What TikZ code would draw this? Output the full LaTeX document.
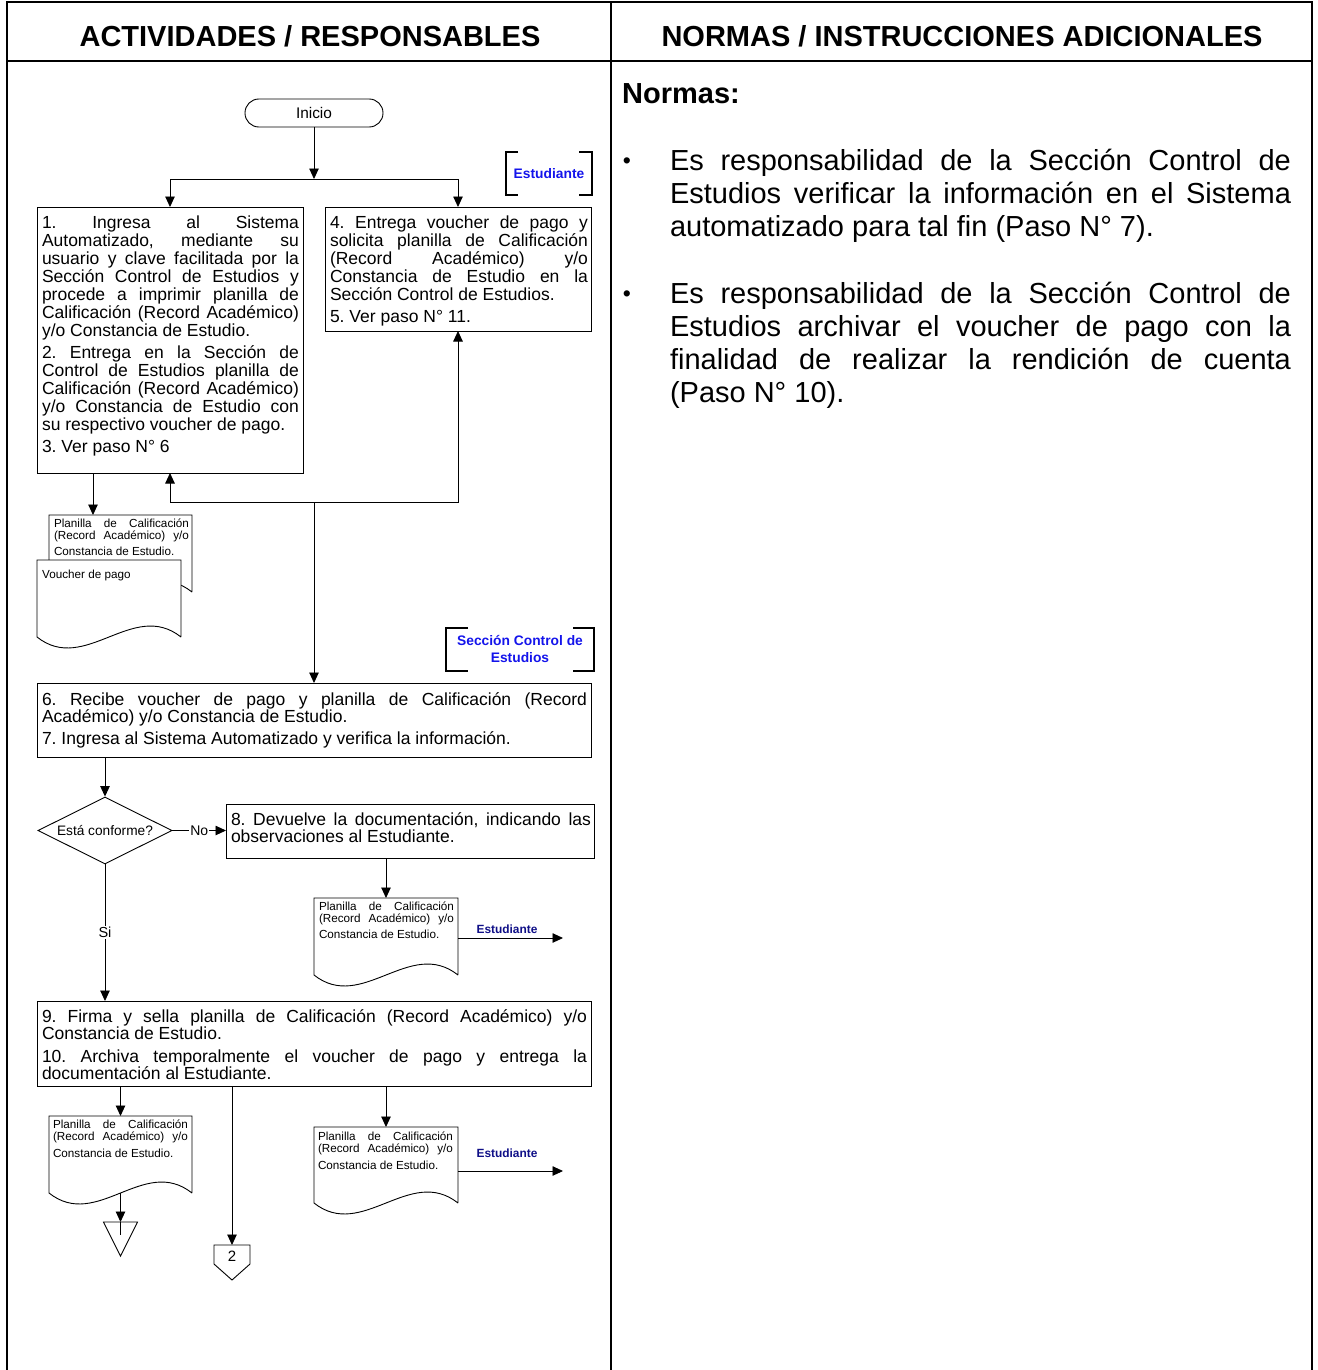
\documentclass[tikz,border=0pt]{standalone}
\usepackage{fontspec}
\setmainfont{Liberation Sans}
\usetikzlibrary{arrows.meta,shapes.geometric}
\definecolor{lblue}{RGB}{20,20,235}
\definecolor{dblue}{RGB}{15,15,135}
\newcommand\fsz[2]{\fontsize{#1}{#2}\selectfont}
\newcommand\pset[1]{\parindent=0pt\parskip=#1\relax}
\newcommand\docshape[1]{\draw[ln,fill=white] (#1.south east) -- (#1.north east) -- (#1.north west) -- (#1.south west) .. controls +(48,38) and +(-48,-38) .. (#1.south east);}
\hyphenpenalty=10000
\exhyphenpenalty=10000
\tolerance=10000
\hbadness=10000
\frenchspacing
\begin{document}
\begin{tikzpicture}[x=1pt,y=-1pt,
 ln/.style={line width=0.9pt},
 arr/.style={ln,-{Triangle[length=10.5pt,width=9.5pt]}},
 box/.style={draw,ln,rectangle,inner sep=0pt,outer sep=0pt},
 ghost/.style={rectangle,inner sep=0pt,outer sep=0pt},
 para/.style={anchor=north west,inner sep=0pt,outer sep=0pt,align=justify},
 frm/.style={line width=2.4pt},
 brk/.style={ghost,font=\fsz{13.8}{17}\bfseries,text=lblue,align=center},
 brl/.style={line width=2pt},
 outl/.style={font=\fsz{11.9}{12}\bfseries,text=dblue},
 lbl/.style={fill=white,inner sep=1pt,font=\fsz{14}{14}},
 boxtxt/.style={para,font=\fsz{17.5}{18}},
 doctxt/.style={para,text width=135pt,font=\fsz{11.7}{12.5}},
]
\useasboundingbox (0,0) rectangle (1317,1370);
% frame
\draw[frm] (7,1370) -- (7,2) -- (1312,2) -- (1312,1370);
\draw[frm] (7,61) -- (1312,61);
\draw[frm] (611,2) -- (611,1370);
% headers
\node[font=\fsz{29}{29}\bfseries] (h1) at (310,36) {ACTIVIDADES / RESPONSABLES};
\node[font=\fsz{29}{29}\bfseries] (h2) at (962,36) {NORMAS / INSTRUCCIONES ADICIONALES};
\node[anchor=west,font=\fsz{29}{29}\bfseries,inner sep=0pt] (nm) at (622,94) {Normas:};
% right column
\node[font=\fsz{23}{23},inner sep=0pt] (bu1) at (627,163) {•};
\node[font=\fsz{23}{23},inner sep=0pt] (bu2) at (627,296) {•};
\node[para,text width=621pt,font=\fsz{29}{33}] (n1) at (670,149.2) {Es responsabilidad de la Sección Control de\linebreak Estudios verificar la información en el Sistema\linebreak automatizado para tal fin (Paso N° 7).};
\node[para,text width=621pt,font=\fsz{29}{33}] (n2) at (670,282.2) {Es responsabilidad de la Sección Control de\linebreak Estudios archivar el voucher de pago con la\linebreak finalidad de realizar la rendición de cuenta\linebreak (Paso N° 10).};
% flowchart boxes
\node[box,minimum width=138pt,minimum height=28pt,rounded corners=13.9pt,font=\fsz{15.4}{16}] (ini) at (314,113) {Inicio};
\node[box,minimum width=266pt,minimum height=266pt] (b1) at (170,340) {};
\node[box,minimum width=266pt,minimum height=124pt] (b4) at (458,269) {};
\node[box,minimum width=554pt,minimum height=74pt] (b6) at (314,720) {};
\node[box,minimum width=368pt,minimum height=54pt] (b8) at (410,831) {};
\node[box,minimum width=554pt,minimum height=85pt] (b9) at (314,1043.5) {};
\node[draw,ln,diamond,aspect=2,minimum width=134pt,minimum height=67pt,inner sep=0pt,font=\fsz{13.7}{14}] (dia) at (105,830.5) {Está conforme?};
% box texts
\node[boxtxt,text width=257pt] (t1) at (42,215.5) {\pset{4pt}1. Ingresa al Sistema\linebreak Automatizado, mediante su\linebreak usuario y clave facilitada por la\linebreak Sección Control de Estudios y\linebreak procede a imprimir planilla de\linebreak Calificación (Record Académico)\linebreak y/o Constancia de Estudio.\par 2. Entrega en la Sección de\linebreak Control de Estudios planilla de\linebreak Calificación (Record Académico)\linebreak y/o Constancia de Estudio con\linebreak su respectivo voucher de pago.\par 3. Ver paso N° 6};
\node[boxtxt,text width=258pt] (t4) at (330,215.5) {\pset{4pt}4. Entrega voucher de pago y\linebreak solicita planilla de Calificación\linebreak (Record Académico) y/o\linebreak Constancia de Estudio en la\linebreak Sección Control de Estudios.\par 5. Ver paso N° 11.};
\node[boxtxt,text width=545pt,font=\fsz{17.5}{17}] (t6) at (42,692.5) {\pset{5pt}6. Recibe voucher de pago y planilla de Calificación (Record\linebreak Académico) y/o Constancia de Estudio.\par 7. Ingresa al Sistema Automatizado y verifica la información.};
\node[boxtxt,text width=360pt,font=\fsz{17.5}{17}] (t8) at (231,812.5) {8. Devuelve la documentación, indicando las\linebreak observaciones al Estudiante.};
\node[boxtxt,text width=545pt,font=\fsz{17.5}{17}] (t9) at (42,1009.5) {\pset{6pt}9. Firma y sella planilla de Calificación (Record Académico) y/o\linebreak Constancia de Estudio.\par 10. Archiva temporalmente el voucher de pago y entrega la\linebreak documentación al Estudiante.};
% documents
\node[ghost,minimum width=143pt,minimum height=77pt] (dA) at (120.5,553.5) {};
\node[ghost,minimum width=144pt,minimum height=77pt] (dB) at (109,598.5) {};
\node[ghost,minimum width=144pt,minimum height=77pt] (d3) at (386,936.5) {};
\node[ghost,minimum width=143pt,minimum height=77pt] (d4) at (120.5,1154.5) {};
\node[ghost,minimum width=144pt,minimum height=76pt] (d5) at (386,1165) {};
\docshape{dA}
\docshape{dB}
\docshape{d3}
\docshape{d4}
\docshape{d5}
\node[doctxt] (tA) at (54,518.6) {Planilla de Calificación\linebreak (Record Académico) y/o\vspace{3pt}\linebreak Constancia de Estudio.};
\node[anchor=north west,inner sep=0pt,font=\fsz{11.7}{12.5}] (tB) at (42,569.6) {Voucher de pago};
\node[doctxt] (t3d) at (319,901.6) {Planilla de Calificación\linebreak (Record Académico) y/o\vspace{3.5pt}\linebreak Constancia de Estudio.};
\node[doctxt] (t4d) at (53,1119.6) {Planilla de Calificación\linebreak (Record Académico) y/o\vspace{4pt}\linebreak Constancia de Estudio.};
\node[doctxt] (t5d) at (318,1131.6) {Planilla de Calificación\linebreak (Record Académico) y/o\vspace{4pt}\linebreak Constancia de Estudio.};
% brackets
\node[brk,minimum width=86pt,minimum height=43pt] (br1) at (549,173.5) {Estudiante};
\draw[brl] ([xshift=12pt]br1.north west) -- (br1.north west) -- (br1.south west) -- ([xshift=12pt]br1.south west);
\draw[brl] ([xshift=-13pt]br1.north east) -- (br1.north east) -- (br1.south east) -- ([xshift=-13pt]br1.south east);
\node[brk,minimum width=148pt,minimum height=43pt] (br2) at (520,649) {Sección Control de\\Estudios};
\draw[brl] ([xshift=22pt]br2.north west) -- (br2.north west) -- (br2.south west) -- ([xshift=22pt]br2.south west);
\draw[brl] ([xshift=-21pt]br2.north east) -- (br2.north east) -- (br2.south east) -- ([xshift=-21pt]br2.south east);
% terminal symbols
\node[ghost,minimum width=34pt,minimum height=34pt] (tri) at (120.5,1239) {};
\draw[ln] (tri.north west) -- (tri.north east) -- (tri.south) -- cycle;
\draw[ln] (tri.north) -- ++(0,13);
\node[ghost,minimum width=36pt,minimum height=35pt] (c2) at (232,1262.5) {};
\draw[ln] (c2.north west) -- (c2.north east) -- ++(0,19) -- (c2.south) -- ([yshift=-19pt]c2.north west) -- cycle;
\node[font=\fsz{15}{15}] (c2t) at (232,1256) {2};
% connectors
\coordinate (sp) at (314,179);
\draw[arr] (ini.south) -- (sp);
\draw[arr] (sp) -| (b1.north);
\draw[arr] (sp) -| (b4.north);
\coordinate (xa) at (93,0);
\draw[arr] (b1.south -| xa) -- (dA.north -| xa);
\coordinate (jn) at (314,502);
\draw[arr] (jn) -| (b1.south);
\draw[arr] (jn) -| (b4.south);
\draw[arr] (jn) -- (b6.north);
\draw[arr] (b6.south -| dia.north) -- (dia.north);
\draw[arr] (dia.east) -- node[lbl]{No} (dia.east -| b8.west);
\draw[arr] (b8.south -| d3.north) -- (d3.north);
\coordinate (e1) at (563,938);
\draw[arr] (d3.east |- e1) -- (e1);
\node[outl] (o1) at (507,929) {Estudiante};
\draw[arr] (dia.south) -- node[lbl,font=\fsz{14.5}{15}]{Si} (dia.south |- b9.north);
\draw[arr] (b9.south -| d4.north) -- (d4.north);
\draw[arr] (b9.south -| c2.north) -- (c2.north);
\draw[arr] (b9.south -| d5.north) -- (d5.north);
\coordinate (e2) at (563,1171);
\draw[arr] (d5.east |- e2) -- (e2);
\node[outl] (o2) at (507,1153) {Estudiante};
\draw[arr] (d4.south) -- (tri.north);
\end{tikzpicture}
\end{document}
